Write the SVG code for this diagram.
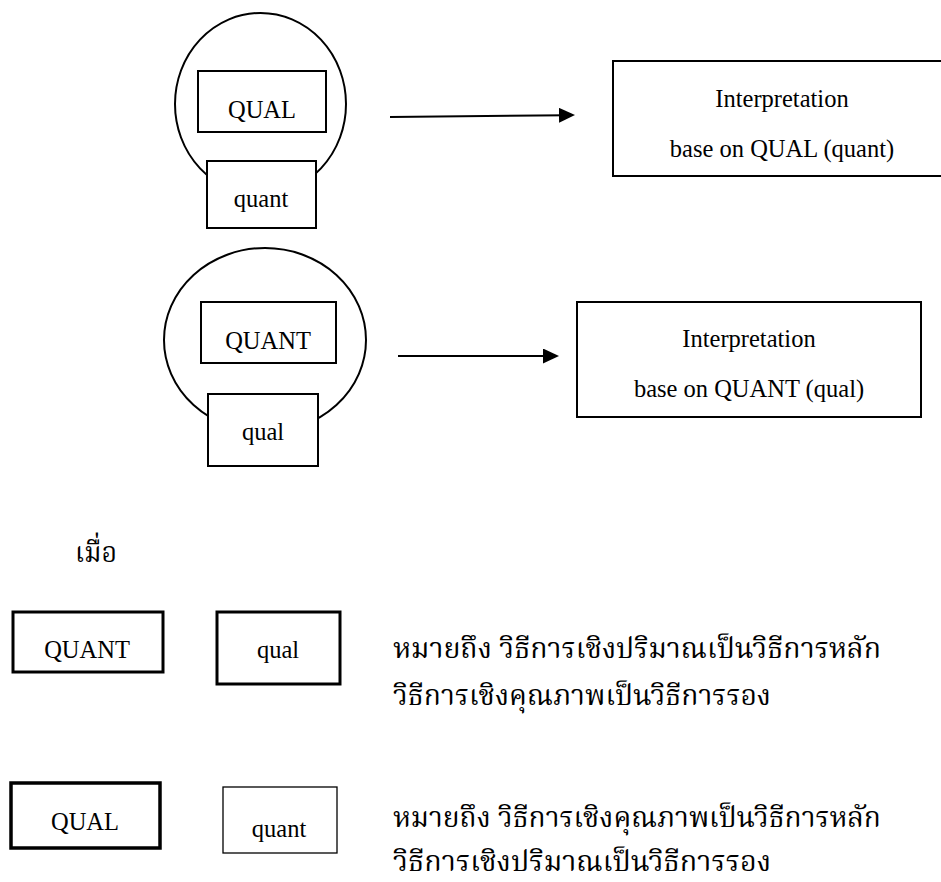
<svg xmlns="http://www.w3.org/2000/svg" width="941" height="882" viewBox="0 0 941 882">
<style>
  .bg { fill: #ffffff; }
  .ring { fill: none; stroke: #000; stroke-width: 2; }
  .box { fill: #ffffff; stroke: #000; stroke-width: 2; }
  .box-thick { fill: #ffffff; stroke: #000; stroke-width: 3; }
  .box-thin { fill: #ffffff; stroke: #000; stroke-width: 1.3; }
  .en { font-family: "Liberation Serif", "Times New Roman", serif; font-size: 24.5px; fill: #000; text-anchor: middle; }
  .th { font-family: "Noto Serif Thai", "Noto Sans Thai", "Loma", "Garuda", "Norasi", "Liberation Serif", serif; font-size: 28px; fill: #000; }
  .conn { fill: none; stroke: #000; stroke-width: 2; }
</style>
<defs>
  <marker id="arrowhead" markerUnits="userSpaceOnUse" markerWidth="16" markerHeight="15" refX="8" refY="7.5" orient="auto">
    <path d="M0,0 L16,7.5 L0,15 Z" fill="#000"/>
  </marker>
</defs>
<rect class="bg" x="0" y="0" width="941" height="882"/>

<g id="group-qual-main">
  <ellipse class="ring" cx="260.5" cy="104" rx="85.5" ry="91"/>
  <g id="node-QUAL-top">
    <rect class="box" x="198" y="71" width="128" height="61"/>
    <text class="en" x="262" y="118">QUAL</text>
  </g>
  <g id="node-quant-top">
    <rect class="box" x="207" y="161" width="109" height="67"/>
    <text class="en" x="261" y="207">quant</text>
  </g>
</g>

<g id="node-interp-qual">
  <rect class="box" x="613" y="61" width="336" height="115"/>
  <text class="en" x="782" y="107">Interpretation</text>
  <text class="en" x="782" y="157">base on QUAL (quant)</text>
</g>

<g id="group-quant-main">
  <ellipse class="ring" cx="265" cy="340" rx="101" ry="92"/>
  <g id="node-QUANT-mid">
    <rect class="box" x="201" y="302" width="135" height="61"/>
    <text class="en" x="268" y="349">QUANT</text>
  </g>
  <g id="node-qual-mid">
    <rect class="box" x="208" y="394" width="110" height="72"/>
    <text class="en" x="263" y="440">qual</text>
  </g>
</g>

<g id="node-interp-quant">
  <rect class="box" x="577" y="302" width="344" height="115"/>
  <text class="en" x="749" y="347">Interpretation</text>
  <text class="en" x="749" y="397">base on QUANT (qual)</text>
</g>

<g id="connectors">
  <path class="conn" d="M390,117 L567,115.2" marker-end="url(#arrowhead)"/>
  <path class="conn" d="M398,356 L551,356" marker-end="url(#arrowhead)"/>
</g>

<g id="legend-title">
  <text class="th" x="75" y="562" textLength="42" lengthAdjust="spacingAndGlyphs">เมื่อ</text>
</g>

<g id="legend-quant">
  <g id="node-QUANT-legend">
    <rect class="box-thick" x="13" y="612" width="150" height="60"/>
    <text class="en" x="87" y="658">QUANT</text>
  </g>
  <g id="node-qual-legend">
    <rect class="box-thick" x="217" y="612" width="123" height="72"/>
    <text class="en" x="278" y="658">qual</text>
  </g>
  <text class="th" x="393" y="658" textLength="488" lengthAdjust="spacingAndGlyphs">หมายถึง วิธีการเชิงปริมาณเป็นวิธีการหลัก</text>
  <text class="th" x="393" y="705" textLength="378" lengthAdjust="spacingAndGlyphs">วิธีการเชิงคุณภาพเป็นวิธีการรอง</text>
</g>

<g id="legend-qual">
  <g id="node-QUAL-legend">
    <rect class="box-thick" x="11" y="783" width="149" height="65" style="stroke-width:3.5"/>
    <text class="en" x="85" y="830">QUAL</text>
  </g>
  <g id="node-quant-legend">
    <rect class="box-thin" x="223" y="787" width="114" height="66"/>
    <text class="en" x="279" y="837">quant</text>
  </g>
  <text class="th" x="393" y="827" textLength="488" lengthAdjust="spacingAndGlyphs">หมายถึง วิธีการเชิงคุณภาพเป็นวิธีการหลัก</text>
  <text class="th" x="393" y="871" textLength="378" lengthAdjust="spacingAndGlyphs">วิธีการเชิงปริมาณเป็นวิธีการรอง</text>
</g>
</svg>
